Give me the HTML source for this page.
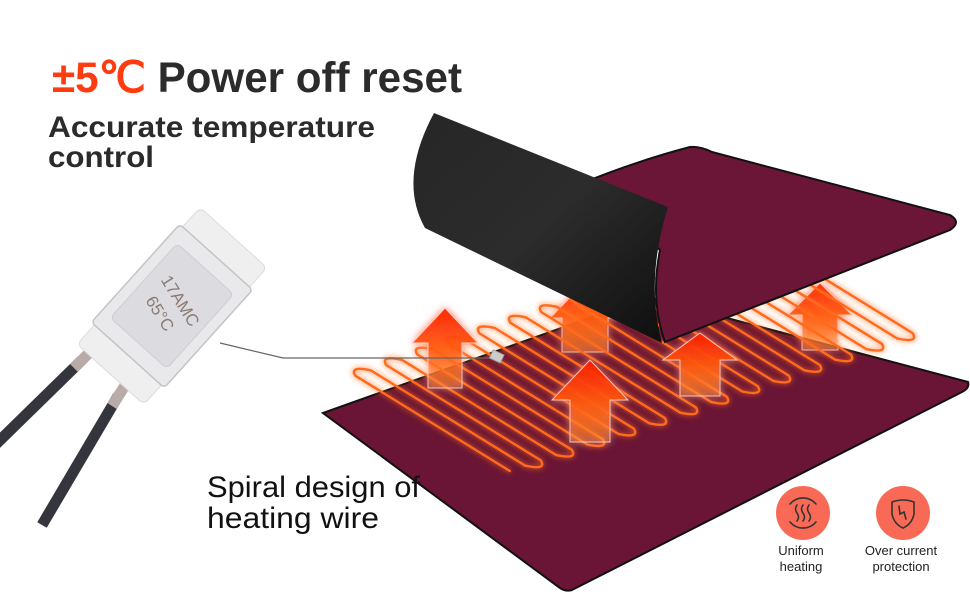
<!DOCTYPE html>
<html><head><meta charset="utf-8"><style>
html,body{margin:0;padding:0;background:#fff;}
svg{display:block;}
</style></head><body>
<svg width="970" height="600" viewBox="0 0 970 600" xmlns="http://www.w3.org/2000/svg">
<defs>
<filter id="glow" x="-20%" y="-20%" width="140%" height="140%">
<feGaussianBlur stdDeviation="3" result="b"/>
<feMerge><feMergeNode in="b"/><feMergeNode in="SourceGraphic"/></feMerge>
</filter>
<filter id="aglow" x="-40%" y="-40%" width="180%" height="180%">
<feGaussianBlur stdDeviation="4" result="b"/>
<feMerge><feMergeNode in="b"/><feMergeNode in="SourceGraphic"/></feMerge>
</filter>
<linearGradient id="ag" x1="0" y1="0" x2="0" y2="1">
<stop offset="0" stop-color="#ff1e00"/><stop offset="0.5" stop-color="#ff5a10"/><stop offset="1" stop-color="#ff8a30" stop-opacity="0.35"/>
</linearGradient>
<linearGradient id="blk" x1="0" y1="0" x2="1" y2="1">
<stop offset="0" stop-color="#262626"/><stop offset="0.5" stop-color="#2c2c2c"/><stop offset="1" stop-color="#0e0e0e"/>
</linearGradient>
</defs>

<text x="52" y="92" font-family="Liberation Sans, sans-serif" font-weight="bold" font-size="43" fill="#2b2b2b" textLength="410" lengthAdjust="spacingAndGlyphs"><tspan fill="#ff3b10">±5℃</tspan> Power off reset</text>
<text x="48" y="137" font-family="Liberation Sans, sans-serif" font-weight="bold" font-size="30" fill="#2b2b2b" textLength="327" lengthAdjust="spacingAndGlyphs">Accurate temperature</text>
<text x="48" y="167" font-family="Liberation Sans, sans-serif" font-weight="bold" font-size="30" fill="#2b2b2b" textLength="106" lengthAdjust="spacingAndGlyphs">control</text>

<path d="M323,413 L648,297 L968,382 Q970,388 962,392 L572,590 Q566,592 560,588 Z" fill="#6a1535" stroke="#111" stroke-width="2"/>

<g filter="url(#aglow)" opacity="0.95">
<path d="M585,282 L620,318 L608,318 L608,352 L562,352 L562,318 L550,318 Z" fill="url(#ag)" stroke="#ffd0c0" stroke-width="1"/>
<path d="M820,283 L852,315 L838,315 L838,350 L802,350 L802,315 L788,315 Z" fill="url(#ag)" stroke="#ffd0c0" stroke-width="1"/>
</g>

<path filter="url(#glow)" fill="none" stroke="#ff6a1a" stroke-width="2.4" stroke-linecap="round"
d="M509.8,471 L355.3,375.7 Q349,365.6 370.8,370.4 L525.3,465.7 Q547,470.4 540.8,460.4
L386.3,365.1 Q380,355 401.8,359.8 L556.3,455.1 Q578,459.8 571.8,449.8
L417.3,354.5 Q411,344.4 432.8,349.2 L587.3,444.5 Q609,449.2 602.8,439.2
L448.3,343.9 Q442,333.8 463.8,338.6 L618.3,433.9 Q640,438.6 633.8,428.6
L479.3,333.3 Q473,323.2 494.8,328 L649.3,423.3 Q671,428 664.8,418
L510.3,322.7 Q504,312.6 525.8,317.4 L680.3,412.7 Q702,417.4 695.8,407.4
L541.3,312.1 Q535,302 556.8,306.8 L711.3,402.1 Q733,406.8 726.8,396.8
L572.3,301.5 Q566,291.4 587.8,296.2 L742.3,391.5 Q764,396.2 757.8,386.2
L603.3,290.9 Q597,280.8 618.8,285.6 L773.3,380.9 Q795,385.6 788.8,375.6
L634.3,280.3 Q628,270.2 649.8,275 L804.3,370.3 Q826,375 819.8,365
L665.3,269.7 Q659,259.6 680.8,264.4 L835.3,359.7 Q857,364.4 850.8,354.4
L696.3,259.1 Q690,249 711.8,253.8 L866.3,349.1 Q888,353.8 881.8,343.8
L727.3,248.5 Q721,238.4 742.8,243.2 L897.3,338.5 Q919,343.2 912.8,333.2 L758.3,237.9"/>

<g filter="url(#aglow)" opacity="0.95">
<path d="M445,308 L478,343 L462,343 L462,388 L428,388 L428,343 L412,343 Z" fill="url(#ag)" stroke="#ffd0c0" stroke-width="1"/>
<path d="M590,360 L628,400 L610,400 L610,442 L570,442 L570,400 L552,400 Z" fill="url(#ag)" stroke="#ffd0c0" stroke-width="1"/>
<path d="M700,333 L737,360 L720,360 L720,396 L680,396 L680,360 L663,360 Z" fill="url(#ag)" stroke="#ffd0c0" stroke-width="1"/>
</g>

<polyline points="220,343 283,358 492,358" fill="none" stroke="#666" stroke-width="1.2"/>
<rect x="491" y="352" width="12" height="9" fill="#ccc" stroke="#999" stroke-width="0.8" transform="rotate(25 497 356)"/>

<path d="M585,182 Q640,160 690,147 Q700,146 712,152 L950,215 Q962,222 950,230 L665,342 Q650,300 660,250 Z" fill="#6b1636" stroke="#111" stroke-width="2"/>
<path d="M434,113 L668,207 Q645,280 662,343 L425,228 Q398,180 434,113 Z" fill="url(#blk)"/>

<text x="207" y="497" font-family="Liberation Sans, sans-serif" font-size="30" fill="#111" textLength="213" lengthAdjust="spacingAndGlyphs">Spiral design of</text>
<text x="207" y="528" font-family="Liberation Sans, sans-serif" font-size="30" fill="#111" textLength="172" lengthAdjust="spacingAndGlyphs">heating wire</text>

<line x1="82" y1="360" x2="-8" y2="448" stroke="#35353d" stroke-width="11"/>
<line x1="118" y1="396" x2="42" y2="525" stroke="#35353d" stroke-width="11"/>
<line x1="92" y1="350" x2="74" y2="368" stroke="#b9aca8" stroke-width="11"/>
<line x1="126" y1="384" x2="112" y2="406" stroke="#b9aca8" stroke-width="11"/>

<g transform="translate(172,306) rotate(42)">
<rect x="-45" y="-92" width="90" height="30" rx="6" fill="#efefef" stroke="#dcdcdc"/>
<rect x="-45" y="62" width="90" height="30" rx="6" fill="#efefef" stroke="#dcdcdc"/>
<rect x="-49" y="-66" width="98" height="132" rx="4" fill="#e9e9ec" stroke="#c4c4c8" stroke-width="1.5"/>
<rect x="-38" y="-50" width="76" height="100" rx="5" fill="#dcdbe0" stroke="#cfcdd3"/>
<g transform="rotate(16)" font-family="Liberation Sans, sans-serif" font-size="17" fill="#8a7c74" text-anchor="middle">
<text x="0" y="-4">17AMC</text>
<text x="0" y="20">65°C</text>
</g>
</g>

<circle cx="803" cy="513" r="27" fill="#f96a56"/>
<circle cx="903" cy="513" r="27" fill="#f96a56"/>
<g fill="none" stroke="#333" stroke-width="1.6" stroke-linecap="round">
<path d="M790,504 A17,17 0 0 1 816,504"/>
<path d="M790,522 A17,17 0 0 0 816,522"/>
<path d="M797,505 q-3,4 0,8 q3,4 0,8"/>
<path d="M803,505 q-3,4 0,8 q3,4 0,8"/>
<path d="M809,505 q-3,4 0,8 q3,4 0,8"/>
<path d="M892,502 Q903,498 914,502 L914,514 Q912,524 903,528 Q894,524 892,514 Z"/>
<path d="M899,506 L900,514 L904,512 L906,519"/>
</g>
<g font-family="Liberation Sans, sans-serif" font-size="13" fill="#222" text-anchor="middle">
<text x="801" y="555">Uniform</text>
<text x="801" y="571">heating</text>
<text x="901" y="555">Over current</text>
<text x="901" y="571">protection</text>
</g>
</svg>
</body></html>
